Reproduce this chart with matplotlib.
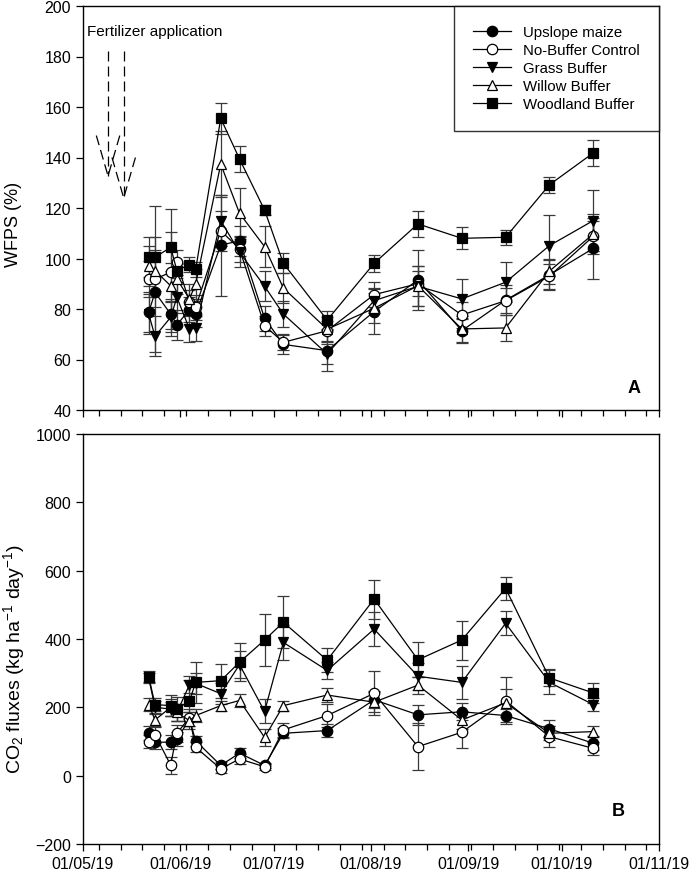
import matplotlib
matplotlib.use("Agg")
import matplotlib.pyplot as plt
import matplotlib.dates as mdates
from matplotlib.lines import Line2D
import numpy as np
import pandas as pd

plt.rcParams['font.family'] = ['Liberation Sans', 'DejaVu Sans']
plt.rcParams['mathtext.fontset'] = 'custom'
plt.rcParams['mathtext.rm'] = 'Liberation Sans'
plt.rcParams['mathtext.it'] = 'Liberation Sans'

# ---------------- data ----------------
dates = pd.to_datetime(['2019-05-22', '2019-05-24', '2019-05-29', '2019-05-31', '2019-06-04',
                        '2019-06-06', '2019-06-14', '2019-06-20', '2019-06-28', '2019-07-04',
                        '2019-07-18', '2019-08-02', '2019-08-16', '2019-08-30', '2019-09-13',
                        '2019-09-27', '2019-10-11'])

series_names = ['Upslope maize', 'No-Buffer Control', 'Grass Buffer', 'Willow Buffer', 'Woodland Buffer']

# WFPS (%)
wfps_upslope = [78.7, 86.6, 78, 73.7, 79.8, 78, 105.3, 107, 76.3, 66, 63.5, 79, 91.5, 71.4, 83.5, 93.5, 104]
wfps_nobuffer = [91.9, 91.9, 94.5, 98.5, 82.7, 80.7, 111, 103.8, 73.4, 66.8, 71.4, 85.7, 90, 77.6, 83.3, 93, 108.8]
wfps_grass = [78, 69.2, 76.7, 84.6, 72.1, 72.4, 115, 102.5, 89, 78, 62.2, 83.3, 89, 84, 90.6, 105.1, 115]
wfps_willow = [97, 95.2, 89.2, 91.9, 84, 89.9, 137.4, 117.9, 104.7, 88.3, 72, 80.3, 89.2, 72.1, 72.5, 95, 109.7]
wfps_woodland = [100.5, 100.5, 104.4, 95.2, 97.6, 95.8, 155.5, 139.4, 119.2, 98.1, 75.6, 98.1, 113.7, 108, 108.4, 129.2, 141.8]

wfps_upslope_err = [8, 6, 6, 6, 5, 5, 20, 6, 5, 4, 8, 9, 12, 5, 6, 6, 12]
wfps_nobuffer_err = [7, 29, 25, 5, 5, 5, 8, 5, 4, 3, 4, 5, 5, 5, 5, 5, 6]
wfps_grass_err = [8, 8, 6, 6, 5, 5, 10, 6, 6, 5, 4, 5, 8, 8, 8, 12, 12]
wfps_willow_err = [8, 8, 6, 6, 6, 6, 13, 10, 8, 6, 5, 6, 8, 5, 5, 5, 8]
wfps_woodland_err = [8, 8, 6, 3, 3, 3, 6, 5, 2, 4, 3.5, 3.3, 5, 4.3, 3, 3.2, 5]

# CO2 fluxes (kg ha-1 day-1)
co2_upslope = [124, 98, 98, 107, 165, 102, 30, 66, 30, 124, 132, 222, 178, 187, 176, 137, 95]
co2_nobuffer = [100, 120, 31, 124, 170, 83, 20, 49, 26, 134, 176, 241, 85, 127, 219, 114, 80]
co2_grass = [285, 200, 195, 185, 266, 270, 240, 325, 188, 390, 308, 429, 291, 273, 446, 273, 208]
co2_willow = [208, 163, 200, 185, 161, 176, 205, 220, 112, 205, 236, 215, 265, 163, 213, 124, 129]
co2_woodland = [290, 208, 205, 195, 219, 273, 278, 332, 397, 449, 338, 517, 339, 397, 548, 286, 242]

co2_upslope_err = [20, 20, 20, 20, 20, 15, 10, 15, 8, 15, 20, 25, 30, 25, 20, 25, 20]
co2_nobuffer_err = [20, 25, 25, 25, 25, 15, 12, 15, 8, 20, 35, 64, 68, 45, 69, 30, 20]
co2_grass_err = [15, 20, 20, 25, 25, 30, 30, 40, 35, 50, 25, 50, 40, 49, 35, 35, 20]
co2_willow_err = [20, 20, 25, 25, 25, 20, 15, 20, 25, 15, 20, 30, 25, 25, 40, 20, 15]
co2_woodland_err = [15, 20, 30, 35, 60, 60, 50, 56, 75, 76, 35, 57, 51, 57, 33, 25, 29]

fert_dates = pd.to_datetime(['2019-05-09', '2019-05-14'])
fert_tips = [132.7, 124]

# ---------------- styling ----------------
styles = [
    dict(marker='o', mfc='black'),
    dict(marker='o', mfc='white'),
    dict(marker='v', mfc='black'),
    dict(marker='^', mfc='white'),
    dict(marker='s', mfc='black'),
]

fig = plt.figure(figsize=(6.97, 8.79), dpi=100)
L, R = 83 / 697, 659 / 697
ax1 = fig.add_axes([L, 1 - 411 / 879, R - L, 404 / 879])
ax2 = fig.add_axes([L, 1 - 845 / 879, R - L, 410 / 879])

def msize(m):
    return 7 if m == 's' else 7.5

def draw(ax, vals, errs):
    for name, v, e, st in zip(series_names, vals, errs, styles):
        ax.errorbar(dates, v, yerr=e, color='black', ecolor='#3a3a3a', elinewidth=0.9,
                    capsize=4.6, capthick=0.9, lw=0.9, marker=st['marker'], mfc=st['mfc'],
                    mec='black', mew=0.9, ms=msize(st['marker']))

draw(ax1, [wfps_upslope, wfps_nobuffer, wfps_grass, wfps_willow, wfps_woodland],
     [wfps_upslope_err, wfps_nobuffer_err, wfps_grass_err, wfps_willow_err, wfps_woodland_err])
draw(ax2, [co2_upslope, co2_nobuffer, co2_grass, co2_willow, co2_woodland],
     [co2_upslope_err, co2_nobuffer_err, co2_grass_err, co2_willow_err, co2_woodland_err])

xmin, xmax = pd.Timestamp('2019-05-01'), pd.Timestamp('2019-11-01')
for ax in (ax1, ax2):
    ax.set_xlim(xmin, xmax)
    ax.xaxis.set_major_locator(mdates.MonthLocator())
    ax.xaxis.set_minor_locator(mdates.WeekdayLocator(byweekday=mdates.MO))
    ax.xaxis.set_major_formatter(mdates.DateFormatter('%d/%m/%y'))
    ax.tick_params(axis='both', which='major', direction='out', length=5, width=0.9, labelsize=11.5)
    ax.tick_params(axis='x', which='minor', direction='out', length=4, width=0.9)
    for s in ax.spines.values():
        s.set_linewidth(1.0)

ax1.set_ylim(40, 200)
ax1.set_yticks(np.arange(40, 201, 20))
ax1.tick_params(axis='x', labelbottom=False)
ax2.set_ylim(-200, 1000)
ax2.set_yticks(np.arange(-200, 1001, 200))

ax1.set_ylabel('WFPS (%)', fontsize=13)
ax1.yaxis.set_label_coords(-0.106, 0.462)
ax2.set_ylabel(r'CO$_2$ fluxes (kg ha$^{-1}$ day$^{-1}$)', fontsize=14)
ax2.yaxis.set_label_coords(-0.097, 0.455)

ax1.text(0.957, 0.035, 'A', transform=ax1.transAxes, fontsize=13, fontweight='bold', ha='center', va='bottom')
ax2.text(0.930, 0.061, 'B', transform=ax2.transAxes, fontsize=13, fontweight='bold', ha='center', va='bottom')

handles = [Line2D([], [], color='black', lw=0.9, marker=st['marker'], mfc=st['mfc'], mec='black',
                  mew=0.9, ms=msize(st['marker'])) for st in styles]
leg = ax1.legend(handles, series_names, loc='upper right', borderaxespad=0, frameon=True, fancybox=False,
                 edgecolor='black', fontsize=10.8, handlelength=2.5, borderpad=1.3,
                 labelspacing=0.26, handletextpad=0.8)
leg.get_frame().set_linewidth(1.0)

# fertilizer application arrows
ax1.text(pd.Timestamp('2019-05-02 08:00'), 190, 'Fertilizer application', fontsize=11,
         ha='left', va='center')
dash = (8, 4)
hw = pd.Timedelta(hours=90)
for d, tip in zip(fert_dates, fert_tips):
    ax1.plot([d, d], [182, tip], color='black', lw=0.9, dashes=dash)
    ax1.plot([d - hw, d], [tip + 16, tip], color='black', lw=0.9, dashes=dash)
    ax1.plot([d + hw, d], [tip + 16, tip], color='black', lw=0.9, dashes=dash)

fig.savefig('out.png', dpi=100)
